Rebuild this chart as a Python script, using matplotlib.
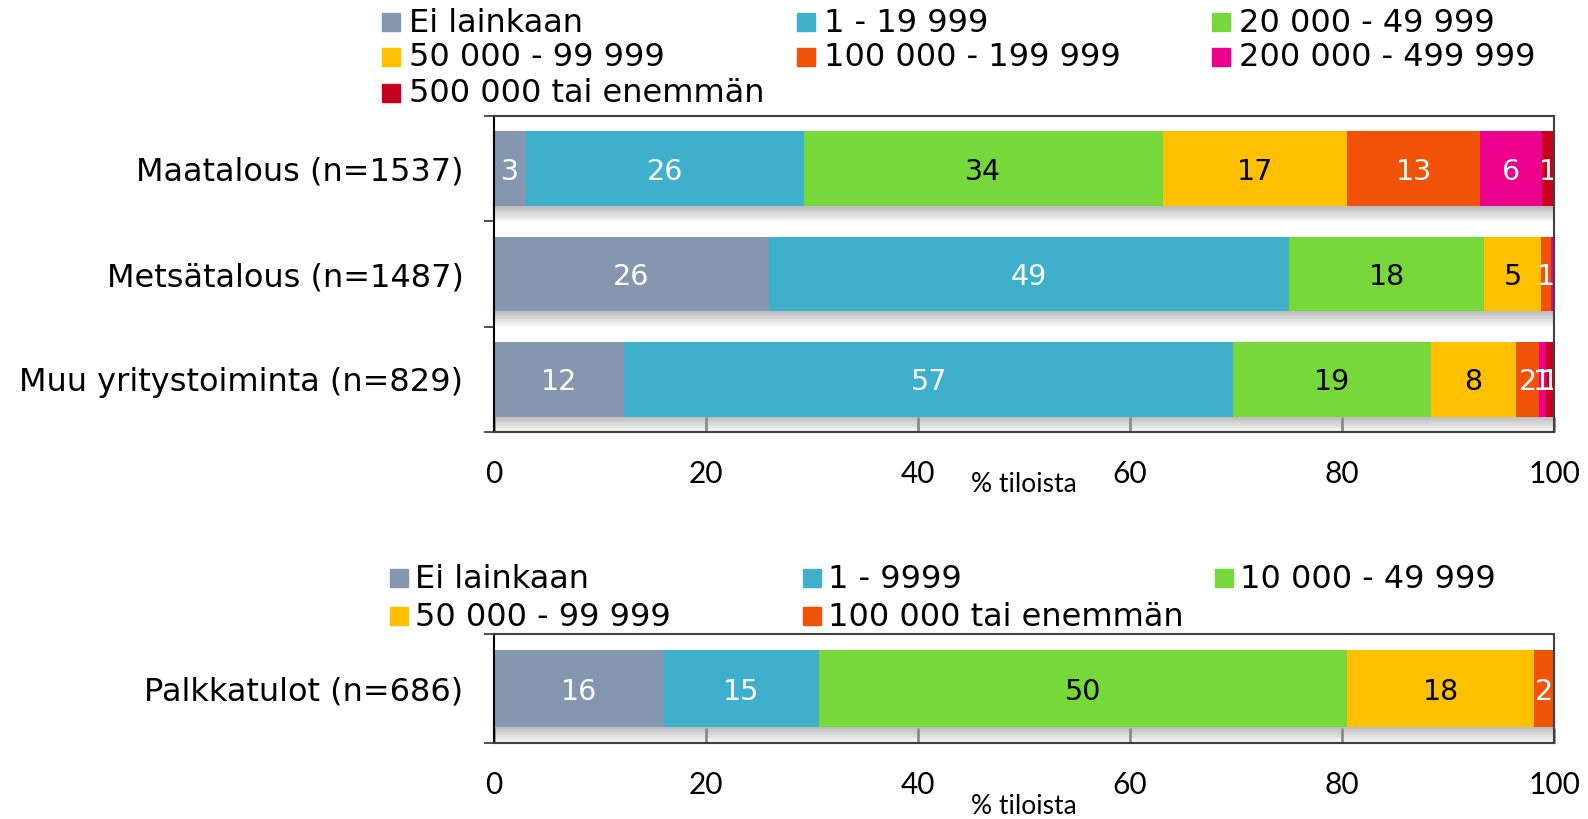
import matplotlib
matplotlib.use("Agg")
import matplotlib.pyplot as plt
from matplotlib.patches import Rectangle

# ---- data ----
top_categories = ["Maatalous (n=1537)", "Metsätalous (n=1487)", "Muu yritystoiminta (n=829)"]
top_series = ["Ei lainkaan", "1 - 19 999", "20 000 - 49 999", "50 000 - 99 999",
              "100 000 - 199 999", "200 000 - 499 999", "500 000 tai enemmän"]
maatalous = [3.0, 26.2, 33.9, 17.4, 12.5, 5.9, 1.1]
metsatalous = [25.9, 49.1, 18.4, 5.4, 0.9, 0.3, 0.0]
muu_yritys = [12.3, 57.4, 18.7, 8.0, 2.2, 0.6, 0.8]
maatalous_labels = ["3", "26", "34", "17", "13", "6", "1"]
metsatalous_labels = ["26", "49", "18", "5", "1", "", ""]
muu_yritys_labels = ["12", "57", "19", "8", "2", "1", "1"]

bottom_categories = ["Palkkatulot (n=686)"]
bottom_series = ["Ei lainkaan", "1 - 9999", "10 000 - 49 999", "50 000 - 99 999",
                 "100 000 tai enemmän"]
palkkatulot = [16.0, 14.7, 49.8, 17.6, 1.9]
palkkatulot_labels = ["16", "15", "50", "18", "2"]

xticks = [0, 20, 40, 60, 80, 100]
xlabel = "% tiloista"

COLORS = ["#8497B0", "#3FB0CC", "#77D83C", "#FFC000", "#F05308", "#EC008C", "#C8001E"]
TEXT_COLORS = ["white", "white", "black", "black", "white", "white", "white"]

W, H = 1588, 819
fig = plt.figure(figsize=(W / 100, H / 100), dpi=100)


def fx(px):
    return px / W


def fy(py):
    return 1 - py / H


def draw_rows(ax, rows, labels, bar_h):
    for yi, (vals, labs) in enumerate(zip(rows, labels)):
        # soft drop shadow under each bar
        n = 10
        dh = 0.15 / n
        total = sum(vals)
        for k in range(n):
            ax.barh(yi + bar_h / 2 + k * dh, total, height=dh, left=0, align="edge",
                    color="#707070", alpha=0.45 * (1 - k / n), linewidth=0, zorder=1)
        left = 0
        for si, v in enumerate(vals):
            if v > 0:
                ax.barh(yi, v, height=bar_h, left=left, color=COLORS[si],
                        linewidth=0, zorder=2)
                if labs[si]:
                    ax.text(left + v / 2, yi, labs[si], ha="center", va="center_baseline",
                            fontsize=20.5, color=TEXT_COLORS[si], zorder=4, clip_on=True)
            left += v


def style_axes(ax, cats):
    n = len(cats)
    ax.set_xlim(0, 100)
    ax.set_ylim(n - 0.5, -0.5)
    ax.set_xticks(xticks)
    ax.set_xticklabels([str(t) for t in xticks], fontsize=21.5, family="Lato")
    ax.tick_params(axis="x", direction="in", length=11, width=2, color="#8c8c8c",
                   pad=20, zorder=5)
    ax.set_yticks([i - 0.5 for i in range(n + 1)])
    ax.set_yticklabels([])
    ax.tick_params(axis="y", which="major", direction="out", length=7, width=1.3,
                   color="#404040")
    ax.set_yticks(list(range(n)), minor=True)
    ax.set_yticklabels(cats, minor=True, fontsize=23)
    ax.tick_params(axis="y", which="minor", length=0, pad=22)
    for sp in ax.spines.values():
        sp.set_color("#404040")
        sp.set_linewidth(1.5)
        sp.set_zorder(6)
    ax.spines["left"].set_color("black")


def draw_legend(names, xs, ys, text_dx=27):
    # names placed row by row over a 3-column grid
    for i, name in enumerate(names):
        x = xs[i % 3]
        y = ys[i // 3]
        fig.patches.append(Rectangle((fx(x), fy(y + 9)), fx(18), 18 / H,
                                     transform=fig.transFigure, color=COLORS[i]))
        fig.text(fx(x + text_dx), fy(y + 1), name, fontsize=23, va="center", ha="left")


# ---- top chart ----
ax1 = fig.add_axes([fx(494), fy(432), fx(1060), (432 - 116) / H])
draw_rows(ax1, [maatalous, metsatalous, muu_yritys],
          [maatalous_labels, metsatalous_labels, muu_yritys_labels], 0.71)
style_axes(ax1, top_categories)
fig.text(fx(1024), fy(485), xlabel, fontsize=19, family="Lato", ha="center", va="center")
draw_legend(top_series, [382, 797, 1212], [22, 57, 93])

# ---- bottom chart ----
ax2 = fig.add_axes([fx(494), fy(743), fx(1060), (743 - 634) / H])
draw_rows(ax2, [palkkatulot], [palkkatulot_labels], 0.706)
style_axes(ax2, bottom_categories)
fig.text(fx(1024), fy(806), xlabel, fontsize=19, family="Lato", ha="center", va="center")
draw_legend(bottom_series, [390, 803, 1215], [578, 616], text_dx=25)

fig.savefig("out.png", dpi=100)
